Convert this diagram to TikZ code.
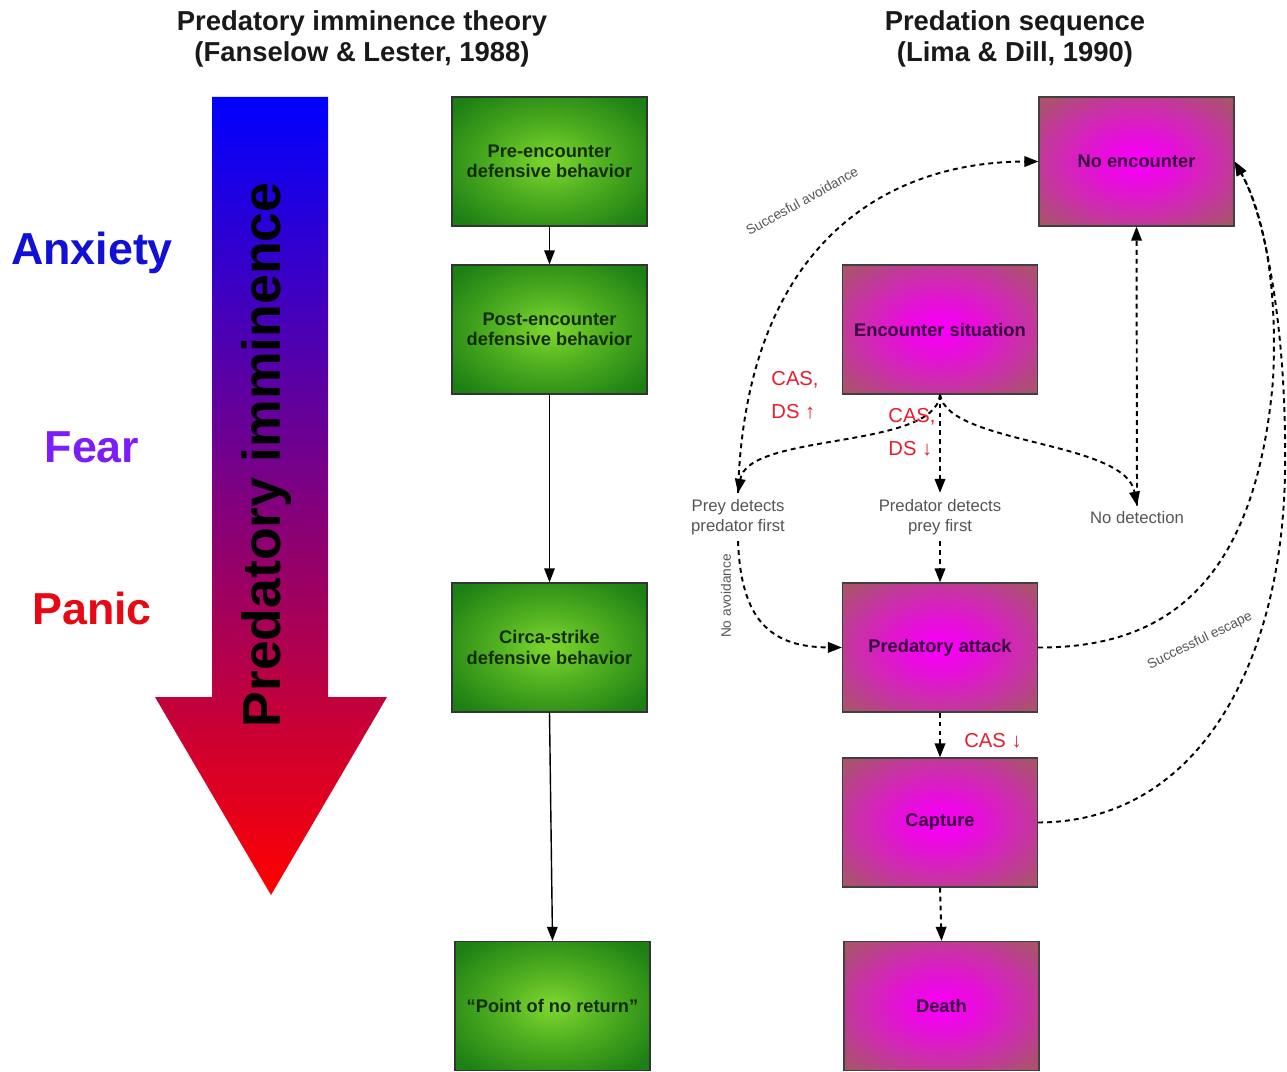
\documentclass[tikz,border=0pt]{standalone}
\usepackage{fontspec}
\setmainfont{Liberation Sans}
\usetikzlibrary{arrows.meta}
\definecolor{gcenter}{RGB}{120,210,45}
\definecolor{gmid}{RGB}{80,175,32}
\definecolor{gedge}{RGB}{28,128,20}
\definecolor{mcenter}{RGB}{248,0,245}
\definecolor{mmid1}{RGB}{230,15,218}
\definecolor{mmid2}{RGB}{200,50,165}
\definecolor{medge}{RGB}{170,82,110}
\definecolor{anxblue}{RGB}{16,16,215}
\definecolor{fearpurple}{RGB}{125,30,248}
\definecolor{panicred}{RGB}{232,8,20}
\definecolor{casred}{RGB}{232,30,45}
\definecolor{gtext}{RGB}{20,45,10}
\definecolor{mtext}{RGB}{55,0,60}
\definecolor{labgray}{RGB}{85,85,85}
\pgfdeclareradialshading{greenrad}{\pgfpoint{0bp}{0bp}}{color(0bp)=(gcenter); color(2bp)=(gcenter); color(14bp)=(gmid); color(32bp)=(gedge); color(50bp)=(gedge)}
\pgfdeclareradialshading{magrad}{\pgfpoint{0bp}{0bp}}{color(0bp)=(mcenter); color(2bp)=(mcenter); color(10bp)=(mmid1); color(22bp)=(mmid2); color(33bp)=(medge); color(50bp)=(medge)}
\tikzset{
  greenbox/.style={draw=black!80, line width=0.7pt, shading=greenrad, minimum width=3.9cm, minimum height=2.58cm, inner sep=0pt, align=center, text=gtext, font=\fontsize{10.4}{11.5}\selectfont\bfseries},
  magbox/.style={draw=black!75, line width=0.7pt, shading=magrad, minimum width=3.9cm, minimum height=2.58cm, inner sep=0pt, align=center, text=mtext, font=\fontsize{10.4}{11.5}\selectfont\bfseries},
  graylab/.style={align=center, text=labgray, font=\fontsize{9.5}{11.5}\selectfont},
  smalllab/.style={text=labgray, font=\fontsize{7.8}{9}\selectfont, inner sep=1pt},
  redlab/.style={align=left, text=casred, font=\fontsize{11.5}{18.5}\selectfont},
  titlelab/.style={align=center, text=black!90, font=\fontsize{15.6}{17.6}\selectfont\bfseries},
  biglab/.style={font=\fontsize{25.5}{30}\selectfont\bfseries},
  solidarrow/.style={line width=0.8pt, -{Triangle[length=8pt,width=6pt]}},
  dasharrow/.style={line width=1.1pt, dash pattern=on 2.8pt off 2.3pt, -{Triangle[length=8pt,width=6pt]}}
}
\begin{document}
\begin{tikzpicture}[x=0.02cm,y=-0.02cm]
\useasboundingbox (0,0) rectangle (1287,1071);
\fill[white] (0,0) rectangle (1287,1071);

% titles
\node[titlelab] (t1) at (362,39) {Predatory imminence theory\\(Fanselow \& Lester, 1988)};
\node[titlelab] (t2) at (1015,39) {Predation sequence\\(Lima \& Dill, 1990)};

% emotion labels
\node[biglab, text=anxblue] (anx) at (92,253) {Anxiety};
\node[biglab, text=fearpurple] (fear) at (92,447) {Fear};
\node[biglab, text=panicred] (panic) at (92,608) {Panic};

% big gradient arrow
\shade[top color=blue, bottom color=red]
  (212,97) -- (328,97) -- (328,697) -- (387,697) -- (271,895) -- (155,697) -- (212,697) -- cycle;
\node[rotate=90, font=\fontsize{30.5}{36}\selectfont\bfseries, text=black] (imm) at (267,455) {Predatory imminence};

% green column
\node[greenbox] (g1) at (549.5,161.5) {Pre-encounter\\defensive behavior};
\node[greenbox] (g2) at (549.5,329.5) {Post-encounter\\defensive behavior};
\node[greenbox] (g3) at (549.5,647.5) {Circa-strike\\defensive behavior};
\node[greenbox] (g4) at (552.5,1006) {“Point of no return”};
\draw[solidarrow] (g1.south) -- (g2.north);
\draw[solidarrow] (g2.south) -- (g3.north);
\draw[solidarrow] (g3.south) -- (g4.north);

% magenta column
\node[magbox] (m1) at (1136.5,161.5) {No encounter};
\node[magbox] (m2) at (940,329.5) {Encounter situation};
\node[magbox] (m3) at (940,647.5) {Predatory attack};
\node[magbox] (m4) at (940,822.5) {Capture};
\node[magbox] (m5) at (941.5,1006) {Death};

% detection labels
\node[graylab] (prey) at (738,517) {Prey detects\\predator first};
\node[graylab] (pred) at (940,517) {Predator detects\\prey first};
\node[graylab] (nodet) at (1137,518) {No detection};

% dashed connectors
\draw[dasharrow] (m2.south) .. controls (935,450) and (748,432) .. (prey.north);
\draw[dasharrow] (m2.south) -- (pred.north);
\draw[dasharrow] (m2.south) .. controls (948,445) and (1125,440) .. (nodet.north);
\draw[dasharrow] (nodet.north) -- (m1.south);
\draw[dasharrow] (prey.north) .. controls (745,250) and (880,162) .. (m1.west);
\draw[dasharrow] (prey.south) .. controls (741,620) and (770,647) .. (m3.west);
\draw[dasharrow] (pred.south) -- (m3.north);
\draw[dasharrow] (m3.south) -- (m4.north);
\draw[dasharrow] (m4.south) -- (m5.north);
\draw[dasharrow] (m3.east) .. controls (1160,648) and (1255,590) .. (1273,380) .. controls (1278,280) and (1262,210) .. (m1.east);
\draw[dasharrow] (m4.east) .. controls (1200,822) and (1283,660) .. (1285,470) .. controls (1287,330) and (1265,215) .. (m1.east);

% connector labels
\node[smalllab, rotate=29] (lavoid) at (802,201) {Succesful avoidance};
\node[smalllab, rotate=26] (lesc) at (1200,641) {Successful escape};
\node[smalllab, rotate=90] (lnoav) at (726,596) {No avoidance};
\node[redlab] (cas1) at (795,395) {CAS,\\DS ↑};
\node[redlab] (cas2) at (912,432) {CAS,\\DS ↓};
\node[redlab] (cas3) at (993,741) {CAS ↓};
\end{tikzpicture}
\end{document}
